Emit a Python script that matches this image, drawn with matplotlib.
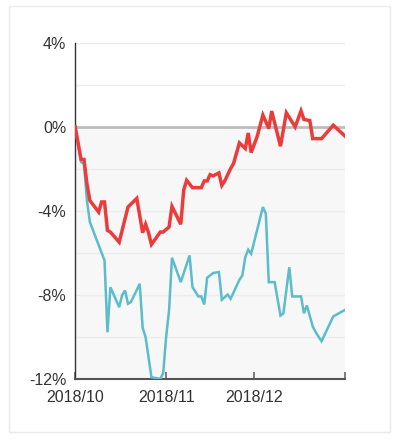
import matplotlib
matplotlib.use("Agg")
import matplotlib.pyplot as plt
from matplotlib.patches import Rectangle
import pandas as pd

plt.rcParams['font.family'] = ['Liberation Sans', 'DejaVu Sans']

red_dates = ["2018-10-01", "2018-10-03", "2018-10-04", "2018-10-05", "2018-10-06",
             "2018-10-09", "2018-10-10", "2018-10-11", "2018-10-12", "2018-10-13",
             "2018-10-16", "2018-10-19", "2018-10-22", "2018-10-24", "2018-10-25",
             "2018-10-26", "2018-10-27", "2018-10-30", "2018-10-31", "2018-11-02",
             "2018-11-03", "2018-11-06", "2018-11-07", "2018-11-08", "2018-11-10",
             "2018-11-13", "2018-11-14", "2018-11-15", "2018-11-16", "2018-11-17",
             "2018-11-19", "2018-11-20", "2018-11-21", "2018-11-23", "2018-11-24",
             "2018-11-26", "2018-11-28", "2018-11-29", "2018-11-30", "2018-12-02",
             "2018-12-04", "2018-12-06", "2018-12-07", "2018-12-10", "2018-12-12",
             "2018-12-15", "2018-12-17", "2018-12-18", "2018-12-20", "2018-12-21",
             "2018-12-24", "2018-12-28", "2019-01-01"]
red_values = [0, -1.55, -1.55, -2.7, -3.5,
              -4.05, -3.57, -3.57, -4.92, -5.0,
              -5.48, -3.81, -3.4, -5.03, -4.63,
              -5.03, -5.59, -5.0, -5.0, -4.76,
              -3.78, -4.63, -3.0, -2.54, -2.89,
              -2.89, -2.57, -2.57, -2.27, -2.33,
              -2.19, -2.78, -2.57, -1.98, -1.74,
              -0.76, -1.03, -0.29, -1.22, -0.48,
              0.56, -0.08, 0.75, -0.92, 0.67,
              0.0, 0.76, 0.35, 0.3, -0.56,
              -0.56, 0.08, -0.44]

teal_dates = ["2018-10-01", "2018-10-03", "2018-10-04", "2018-10-05", "2018-10-06",
              "2018-10-11", "2018-10-12", "2018-10-13", "2018-10-16", "2018-10-17",
              "2018-10-18", "2018-10-19", "2018-10-20", "2018-10-23", "2018-10-24",
              "2018-10-25", "2018-10-27", "2018-10-30", "2018-10-31", "2018-11-01",
              "2018-11-02", "2018-11-03", "2018-11-06", "2018-11-09", "2018-11-10",
              "2018-11-12", "2018-11-13", "2018-11-14", "2018-11-15", "2018-11-17",
              "2018-11-19", "2018-11-20", "2018-11-22", "2018-11-23", "2018-11-26",
              "2018-11-27", "2018-11-28", "2018-11-29", "2018-11-30", "2018-12-04",
              "2018-12-05", "2018-12-06", "2018-12-08", "2018-12-10", "2018-12-11",
              "2018-12-13", "2018-12-14", "2018-12-17", "2018-12-18", "2018-12-19",
              "2018-12-21", "2018-12-22", "2018-12-24", "2018-12-28", "2019-01-01"]
teal_values = [0, -1.67, -1.75, -3.5, -4.52,
               -6.35, -9.76, -7.62, -8.57, -8.0,
               -7.78, -8.41, -8.33, -7.46, -9.55,
               -10.0, -11.9, -11.98, -11.71, -10.0,
               -8.73, -6.22, -7.38, -6.11, -7.62,
               -8.06, -8.06, -8.44, -7.17, -6.95,
               -6.9, -8.22, -7.97, -8.17, -7.27,
               -7.06, -6.19, -5.84, -6.03, -3.81,
               -4.13, -7.38, -7.38, -8.97, -8.86,
               -6.67, -8.06, -8.06, -8.86, -8.49,
               -9.49, -9.76, -10.19, -9.01, -8.7]

y_ticks = [-12, -8, -4, 0, 4]
y_tick_labels = ["-12%", "-8%", "-4%", "0%", "4%"]
grid_levels = [-10, -8, -6, -4, -2, 2, 4]
x_ticks = ["2018-10-01", "2018-11-01", "2018-12-01", "2019-01-01"]
x_tick_labels = ["2018/10", "2018/11", "2018/12", ""]

fig = plt.figure(figsize=(4.0, 4.45), dpi=100)
fig.patch.set_facecolor("white")
card = Rectangle((9 / 400, 1 - 432 / 445), 381 / 400, 426 / 445,
                 transform=fig.transFigure, facecolor="white",
                 edgecolor="#e9e9e9", linewidth=1.0, zorder=-10)
fig.patches.append(card)

ax = fig.add_axes([0.188, 0.1476, 0.6745, 0.7564])
ax.set_zorder(1)
ax.set_facecolor("none")

xmin = pd.Timestamp("2018-10-01")
xmax = pd.Timestamp("2019-01-01")
ax.set_xlim(xmin, xmax)
ax.set_ylim(-12, 4)

ax.axhspan(-12, 0, facecolor="#f7f7f7", edgecolor="none", zorder=0)
for g in grid_levels:
    ax.axhline(g, color="#ececec", linewidth=1.0, zorder=1)
ax.axhline(0, color="#bdbdbd", linewidth=2.0, zorder=1)

ax.plot(pd.to_datetime(teal_dates), teal_values, color="#5bbccb",
        linewidth=1.8, zorder=3, solid_joinstyle="miter")
ax.plot(pd.to_datetime(red_dates), red_values, color="#ec3b3b",
        linewidth=2.5, zorder=4, solid_joinstyle="miter")

ax.set_yticks(y_ticks)
ax.set_yticklabels(y_tick_labels)
ax.set_xticks(pd.to_datetime(x_ticks))
ax.set_xticklabels(x_tick_labels)

for s in ("top", "right"):
    ax.spines[s].set_visible(False)
ax.spines["left"].set_color("#333333")
ax.spines["left"].set_linewidth(1.0)
ax.spines["bottom"].set_color("#555555")
ax.spines["bottom"].set_linewidth(1.5)

ax.tick_params(axis="y", length=0, pad=6.5, labelsize=11.5, labelcolor="#333333")
ax.tick_params(axis="x", direction="in", length=5, width=1.2, color="#666666",
               pad=8, labelsize=11.5, labelcolor="#333333")

fig.savefig("out.png", dpi=100)
